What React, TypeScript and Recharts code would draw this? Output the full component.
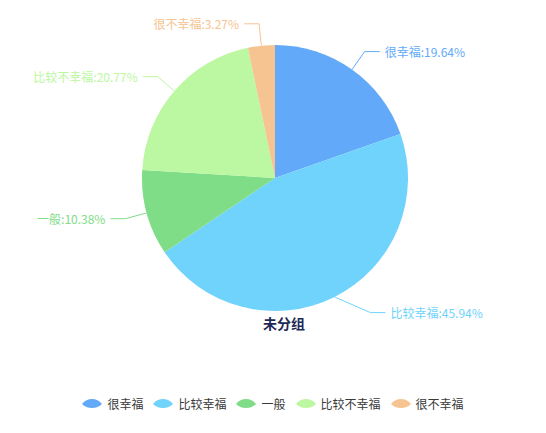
import React from "react";
import { PieChart, Pie, Cell, Legend } from "recharts";

const CATEGORIES = ["很幸福", "比较幸福", "一般", "比较不幸福", "很不幸福"];
const SHARES = [19.64, 45.94, 10.38, 20.77, 3.27];
const COLORS = ["#62aaf9", "#6fd3fb", "#7fdc87", "#bcf7a2", "#f6c491"];
const TITLE = "未分组";

const FONT = '"Noto Sans CJK SC", "Noto Sans", sans-serif';
const RADIAN = Math.PI / 180;
const LINE_LEN1 = 22;
const LINE_LEN2 = 15;
// the bottom-right label was pushed out a bit in the original
const ELBOW_SHIFT: Record<string, [number, number]> = { 比较幸福: [26, -4] };

const data = CATEGORIES.map((name, i) => ({ name, value: SHARES[i], color: COLORS[i] }));

function renderLabel(props: any) {
  const { cx, cy, midAngle, outerRadius, name, value, index } = props;
  const color = COLORS[index];
  const cos = Math.cos(-midAngle * RADIAN);
  const sin = Math.sin(-midAngle * RADIAN);
  const sx = cx + outerRadius * cos;
  const sy = cy + outerRadius * sin;
  const shift = ELBOW_SHIFT[name] || [0, 0];
  const mx = cx + (outerRadius + LINE_LEN1) * cos + shift[0];
  const my = cy + (outerRadius + LINE_LEN1) * sin + shift[1];
  const right = cos >= 0;
  const ex = mx + (right ? LINE_LEN2 : -LINE_LEN2);
  const tx = ex + (right ? 5 : -5);
  return (
    <g key={`lbl-${index}`}>
      <polyline points={`${sx},${sy} ${mx},${my} ${ex},${my}`} fill="none" stroke={color} strokeWidth={1} />
      <text
        x={tx}
        y={my}
        fill={color}
        fontSize={12}
        fontFamily={FONT}
        textAnchor={right ? "start" : "end"}
        dominantBaseline="central"
      >
        {`${name}:${Number(value).toFixed(2)}%`}
      </text>
    </g>
  );
}

function LegendIcon({ color }: { color: string }) {
  return (
    <svg width={20} height={10} style={{ display: "block" }}>
      <path d="M0,5 Q4,0 10,0 Q16,0 20,5 Q16,9 10,9 Q4,9 0,5 Z" fill={color} />
    </svg>
  );
}

function renderLegend() {
  return (
    <div style={{ display: "flex", justifyContent: "center", alignItems: "center", gap: 10 }}>
      {CATEGORIES.map((name, i) => (
        <div key={name} style={{ display: "flex", alignItems: "center", gap: 5 }}>
          <LegendIcon color={COLORS[i]} />
          <span style={{ fontSize: 12, color: "#3a3a3a", fontFamily: FONT }}>{name}</span>
        </div>
      ))}
    </div>
  );
}

export default function App() {
  return (
    <div style={{ position: "absolute", left: 0, top: 0, width: 546, height: 433, background: "#fff" }}>
      <PieChart width={546} height={433} margin={{ top: 0, right: 0, bottom: 0, left: 0 }}>
        <Pie
          data={data}
          dataKey="value"
          nameKey="name"
          cx={275}
          cy={178}
          outerRadius={133}
          startAngle={90}
          endAngle={-270}
          stroke="none"
          label={renderLabel}
          labelLine={false}
          isAnimationActive={false}
        >
          {data.map((d, i) => (
            <Cell key={i} fill={d.color} />
          ))}
        </Pie>
        <Legend
          content={renderLegend}
          wrapperStyle={{ position: "absolute", left: 0, top: 395, width: 546 }}
        />
      </PieChart>
      <div
        style={{
          position: "absolute",
          left: 234,
          width: 100,
          top: 313,
          textAlign: "center",
          fontSize: 14,
          fontWeight: "bold",
          color: "#1e2a55",
          fontFamily: FONT,
        }}
      >
        {TITLE}
      </div>
    </div>
  );
}
